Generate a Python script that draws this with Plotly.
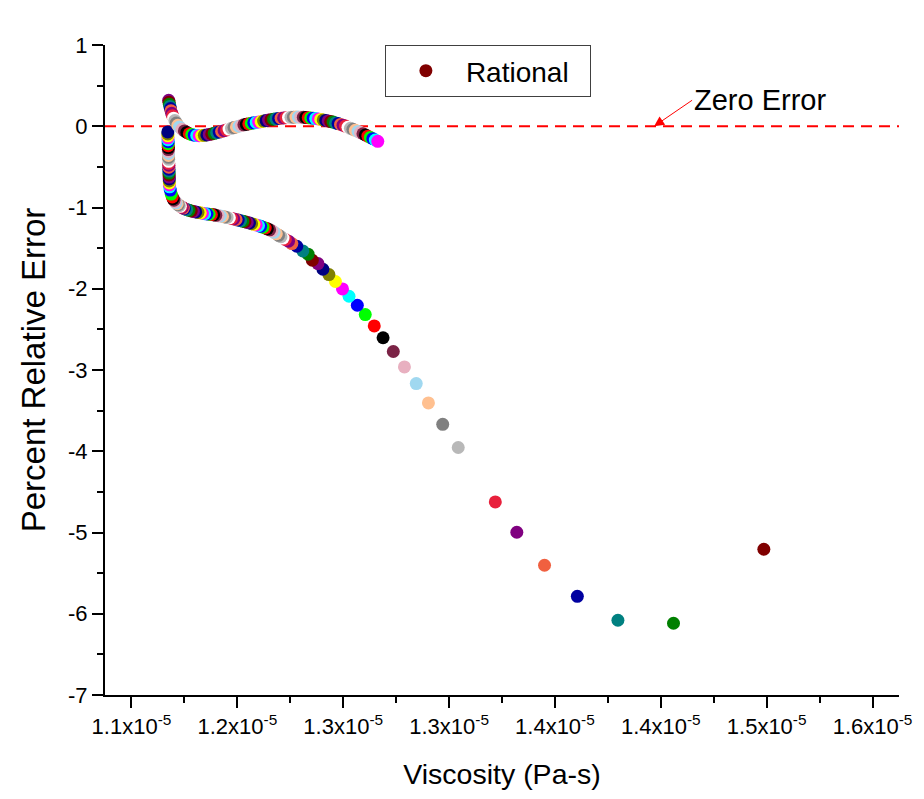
import numpy as np
import plotly.graph_objects as go

# ---------------- data (viscosity in units of 1e-5 Pa-s, percent relative error) -------------
# lower branch, ordered from highest viscosity to lowest
visc_lower = [1.4984, 1.4472, 1.4157, 1.3927, 1.3741, 1.3584, 1.3462, 1.3350, 1.3252, 1.3164,
              1.3083, 1.3014, 1.2947, 1.2884, 1.2826, 1.2776, 1.2725, 1.2680, 1.2633, 1.2596,
              1.2556, 1.2519, 1.2485, 1.2457, 1.2425, 1.2401, 1.2371, 1.2337, 1.2309, 1.2290,
              1.2272,
              1.2259, 1.2247, 1.2234, 1.2221, 1.2208, 1.2196, 1.2183, 1.2170, 1.2158, 1.2145,
              1.2132, 1.2120, 1.2107, 1.2094, 1.2081, 1.2069, 1.2056, 1.2043, 1.2031, 1.2018,
              1.2005, 1.1993, 1.1980, 1.1967, 1.1955, 1.1942, 1.1929, 1.1916, 1.1904, 1.1891,
              1.1878, 1.1866, 1.1853, 1.1840, 1.1828, 1.1815, 1.1802, 1.1790, 1.1777, 1.1764,
              1.1751, 1.1739, 1.1726, 1.1713, 1.1700,
              1.1694, 1.1688, 1.1682, 1.1677, 1.1671, 1.1665, 1.1659, 1.1653, 1.1647, 1.1641,
              1.1636, 1.1631, 1.1625, 1.1620, 1.1616,
              1.1615, 1.1615, 1.1614, 1.1614, 1.1614, 1.1613, 1.1613, 1.1613, 1.1612, 1.1612,
              1.1612, 1.1611, 1.1611, 1.1611, 1.1610, 1.1610, 1.1610, 1.1609, 1.1609, 1.1609,
              1.1608, 1.1608, 1.1608, 1.1607, 1.1607, 1.1607, 1.1606, 1.1606]
err_lower = [-5.206, -6.117, -6.080, -5.785, -5.403, -4.997, -4.624, -4.270, -3.954, -3.668,
             -3.405, -3.167, -2.962, -2.772, -2.603, -2.458, -2.318, -2.203, -2.092, -2.002,
             -1.911, -1.825, -1.760, -1.690, -1.649, -1.575, -1.535, -1.477, -1.444, -1.415,
             -1.394,
             -1.376, -1.359, -1.342, -1.323, -1.305, -1.287, -1.275, -1.263, -1.252, -1.242,
             -1.232, -1.223, -1.215, -1.207, -1.199, -1.191, -1.184, -1.175, -1.169, -1.162,
             -1.155, -1.148, -1.141, -1.134, -1.127, -1.122, -1.116, -1.111, -1.106, -1.101,
             -1.096, -1.090, -1.087, -1.083, -1.080, -1.076, -1.071, -1.065, -1.060, -1.055,
             -1.048, -1.042, -1.035, -1.026, -1.015,
             -1.007, -0.999, -0.992, -0.985, -0.977, -0.966, -0.954, -0.942, -0.929, -0.910,
             -0.892, -0.870, -0.835, -0.785, -0.745,
             -0.721, -0.697, -0.673, -0.649, -0.625, -0.600, -0.576, -0.552, -0.528, -0.504,
             -0.480, -0.456, -0.432, -0.407, -0.383, -0.359, -0.335, -0.311, -0.287, -0.263,
             -0.239, -0.214, -0.190, -0.166, -0.142, -0.118, -0.094, -0.070]

# upper branch, ordered from lowest viscosity to highest
visc_upper = [1.1611, 1.1613, 1.1615, 1.1618, 1.1621, 1.1624, 1.1628, 1.1633, 1.1639, 1.1646,
              1.1654, 1.1663,
              1.1672, 1.1686, 1.1700, 1.1714, 1.1728, 1.1742, 1.1756, 1.1770, 1.1784, 1.1798,
              1.1813, 1.1827, 1.1841, 1.1855, 1.1869, 1.1883, 1.1897, 1.1911, 1.1925, 1.1939,
              1.1953, 1.1967, 1.1981, 1.1995, 1.2009, 1.2023, 1.2037, 1.2051, 1.2065, 1.2079,
              1.2093, 1.2107, 1.2121, 1.2135, 1.2149, 1.2163, 1.2177, 1.2191, 1.2205, 1.2219,
              1.2234, 1.2248, 1.2262, 1.2276, 1.2290, 1.2304, 1.2318, 1.2332, 1.2346, 1.2360,
              1.2374, 1.2388, 1.2402, 1.2416, 1.2430, 1.2444, 1.2459, 1.2473, 1.2487, 1.2501,
              1.2515, 1.2529, 1.2543, 1.2557, 1.2571, 1.2585, 1.2599, 1.2613, 1.2627, 1.2641,
              1.2655, 1.2669, 1.2684, 1.2698, 1.2712, 1.2726, 1.2740, 1.2754, 1.2768, 1.2782,
              1.2796]
err_upper = [0.320, 0.296, 0.270, 0.244, 0.217, 0.190, 0.160, 0.130, 0.100, 0.070,
             0.040, 0.012,
             -0.009, -0.037, -0.058, -0.076, -0.092, -0.102, -0.110, -0.113, -0.116, -0.114,
             -0.112, -0.107, -0.101, -0.094, -0.087, -0.079, -0.072, -0.064, -0.055, -0.045,
             -0.035, -0.025, -0.016, -0.008, 0.000, 0.009, 0.017, 0.024, 0.030, 0.036,
             0.042, 0.047, 0.052, 0.058, 0.064, 0.070, 0.076, 0.081, 0.086, 0.092,
             0.096, 0.100, 0.103, 0.106, 0.108, 0.110, 0.112, 0.113, 0.113, 0.112,
             0.111, 0.109, 0.106, 0.103, 0.099, 0.095, 0.090, 0.084, 0.078, 0.072,
             0.065, 0.058, 0.051, 0.041, 0.033, 0.023, 0.013, 0.002, -0.012, -0.025,
             -0.037, -0.050, -0.064, -0.078, -0.092, -0.107, -0.122, -0.138, -0.153, -0.169,
             -0.185]

x_tick_vals = [1.14, 1.20, 1.26, 1.32, 1.38, 1.44, 1.50, 1.56]
x_tick_text = ["1.1", "1.2", "1.3", "1.3", "1.4", "1.4", "1.5", "1.6"]
y_tick_vals = [1, 0, -1, -2, -3, -4, -5, -6, -7]
y_tick_text = ["1", "0", "-1", "-2", "-3", "-4", "-5", "-6", "-7"]

# ---------------- style -------------
palette = ["#800000", "#008000", "#008080", "#0000A0", "#F06040", "#800080", "#E8203C", "#FFFFFF",
           "#B8B8B8", "#808080", "#FFC090", "#A0D8F0", "#E8B0C0", "#7B2346", "#000000", "#FF0000",
           "#00FF00", "#0000FF", "#00FFFF", "#FF00FF", "#FFFF00", "#808000", "#000080", "#800080"]
FONT = "Arial, 'Liberation Sans', sans-serif"

visc = np.array(visc_lower + visc_upper) * 1e-5
err = np.array(err_lower + err_upper)
colors = [palette[i % len(palette)] for i in range(len(visc))]

fig = go.Figure()
fig.add_trace(go.Scatter(
    x=visc, y=err, mode="markers", showlegend=False,
    marker=dict(size=13, color=colors, line=dict(width=0)),
))
fig.add_trace(go.Scatter(
    x=[None], y=[None], mode="markers", name="Rational\u00a0\u00a0",
    marker=dict(size=13, color="#800000", line=dict(width=0)),
))

fig.add_shape(type="line", xref="paper", yref="y", x0=0, x1=1, y0=0, y1=0,
              line=dict(color="#FF0000", width=2, dash="11px,7px"), layer="below")

fig.add_annotation(
    x=1.4362e-5, y=0, xref="x", yref="y", text="Zero Error",
    showarrow=True, arrowhead=2, arrowsize=2, arrowwidth=1, arrowcolor="#FF0000",
    ax=38, ay=-26, xanchor="left", yanchor="middle",
    font=dict(family=FONT, size=29, color="black"),
)

fig.update_layout(
    width=924, height=799,
    margin=dict(l=105, r=19, t=45, b=104),
    paper_bgcolor="white", plot_bgcolor="white",
    font=dict(family=FONT, color="black"),
    legend=dict(
        x=0.3525, y=1.0, xanchor="left", yanchor="top",
        bordercolor="#404040", borderwidth=1, bgcolor="white",
        font=dict(family=FONT, size=28, color="black"),
        itemwidth=70,
    ),
    xaxis=dict(
        range=[1.125e-5, 1.575e-5],
        tickmode="array",
        tickvals=[v * 1e-5 for v in x_tick_vals],
        ticktext=[t + "x10<sup>-5</sup>" for t in x_tick_text],
        ticks="outside", ticklen=11, tickwidth=2, tickcolor="black",
        showline=True, linewidth=2, linecolor="black",
        showgrid=False, zeroline=False,
        tickfont=dict(family=FONT, size=22, color="black"),
        minor=dict(tickmode="linear", tick0=1.11e-5, dtick=0.06e-5, ticks="outside",
                   ticklen=6, tickwidth=2, tickcolor="black", showgrid=False),
        title=dict(text="Viscosity (Pa-s)", font=dict(family=FONT, size=28.5, color="black"),
                   standoff=26),
    ),
    yaxis=dict(
        range=[-7, 1],
        tickmode="array", tickvals=y_tick_vals, ticktext=y_tick_text,
        ticks="outside", ticklen=11, tickwidth=2, tickcolor="black",
        showline=True, linewidth=2, linecolor="black",
        showgrid=False, zeroline=False,
        tickfont=dict(family=FONT, size=22, color="black"),
        minor=dict(tickmode="linear", tick0=-6.5, dtick=1, ticks="outside",
                   ticklen=6, tickwidth=2, tickcolor="black", showgrid=False),
        title=dict(text="Percent Relative Error", font=dict(family=FONT, size=33, color="black"),
                   standoff=12),
    ),
)

fig.write_html("out.html")
